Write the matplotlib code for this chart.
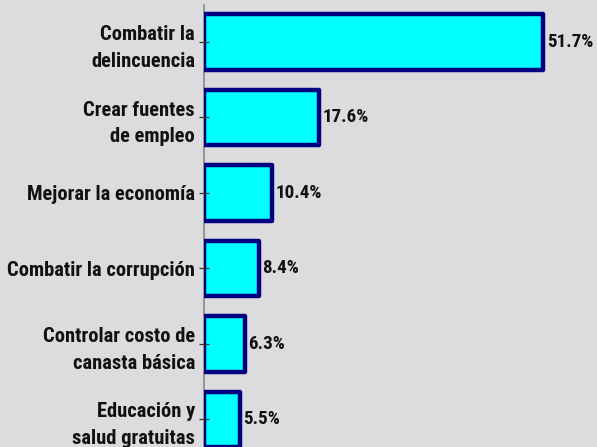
import os
import matplotlib
matplotlib.use("Agg")
import matplotlib.pyplot as plt
from matplotlib import font_manager as fm

categories = ["Combatir la\ndelincuencia", "Crear fuentes\nde empleo", "Mejorar la economía",
              "Combatir la corrupción", "Controlar costo de\ncanasta básica",
              "Educación y\nsalud gratuitas"]
values = [51.7, 17.6, 10.4, 8.4, 6.3, 5.5]
value_labels = ["51.7%", "17.6%", "10.4%", "8.4%", "6.3%", "5.5%"]


def _weight(f):
    w = f.weight
    if isinstance(w, str):
        w = fm.weight_dict.get(w, 400)
    return w


def pick_condensed_bold():
    rank = ['liberation sans narrow', 'arial narrow', 'roboto condensed', 'noto sans',
            'open sans', 'dejavu sans', 'lato', 'inter']
    best, best_score = None, None
    for f in fm.fontManager.ttflist:
        key = (f.name + ' ' + os.path.basename(f.fname)).lower()
        stretch_cond = str(f.stretch) in ('condensed', 'semi-condensed', 'extra-condensed',
                                          'ultra-condensed') or (isinstance(f.stretch, int) and f.stretch < 500)
        if not ('narrow' in key or 'condensed' in key or stretch_cond):
            continue
        if f.style != 'normal' or 'italic' in key or 'oblique' in key:
            continue
        r = len(rank)
        for i, n in enumerate(rank):
            if n in key:
                r = i
                break
        score = r * 10 + abs(_weight(f) - 700) / 100.0
        if 'extra' in key or 'ultra' in key:
            score += 3
        if 'semi' in key:
            score += 1
        if best_score is None or score < best_score:
            best, best_score = f, score
    return best


chosen = pick_condensed_bold()
if chosen is not None:
    base_prop = fm.FontProperties(fname=chosen.fname)
else:
    base_prop = fm.FontProperties(family=['Liberation Sans', 'DejaVu Sans'], weight='bold')

W, H = 597, 447
bg = '#dcdcde'
fig = plt.figure(figsize=(W / 100, H / 100), dpi=100, facecolor=bg)
renderer = fig.canvas.get_renderer()

# size the fonts so that texts roughly match the reference widths
probe = base_prop.copy()
probe.set_size(10)
w10, _, _ = renderer.get_text_width_height_descent("Mejorar la economía", probe, ismath=False)
label_prop = base_prop.copy()
label_prop.set_size(10 * 168.0 / w10)
wv10, _, _ = renderer.get_text_width_height_descent("51.7%", probe, ismath=False)
value_prop = base_prop.copy()
value_prop.set_size(min(10 * 47.0 / wv10, 10 * 168.0 / w10))
lp_w, lp_h, lp_d = renderer.get_text_width_height_descent("lp", label_prop, ismath=False)
lspace = (27.0 - lp_d) / max(lp_h - lp_d, 1)

left_px, top_px = 203.5, 5
ax = fig.add_axes([left_px / W, 0, 1 - left_px / W, 1 - top_px / H])
ax.set_facecolor(bg)

pos = list(range(len(categories)))
ax.barh(pos, values, height=0.73, color='#00ffff', edgecolor='#000080',
        linewidth=3.2, joinstyle='round', zorder=1)

px_per_unit = 6.576
ax.set_xlim(0, (W - left_px) / px_per_unit)
spacing = 75.5
ax.set_ylim((H - 42) / spacing, -(42 - top_px) / spacing)

for y, v, lab in zip(pos, values, value_labels):
    ax.annotate(lab, xy=(v, y), xytext=(3.5, 0), textcoords='offset pixels',
                ha='left', va='center', fontproperties=value_prop, color='#111111')

ax.set_yticks(pos)
ax.set_yticklabels(categories, fontproperties=label_prop, color='#111111',
                   multialignment='right', linespacing=lspace)
ax.tick_params(axis='y', direction='inout', length=7.2, width=0.9, color='#333333', pad=2.5)
ax.set_xticks([])
for s in ['top', 'right', 'bottom']:
    ax.spines[s].set_visible(False)
ax.spines['left'].set_color('#888888')
ax.spines['left'].set_linewidth(1.2)
ax.spines['left'].set_zorder(0.5)

fig.savefig('out.png', dpi=100, facecolor=fig.get_facecolor())
